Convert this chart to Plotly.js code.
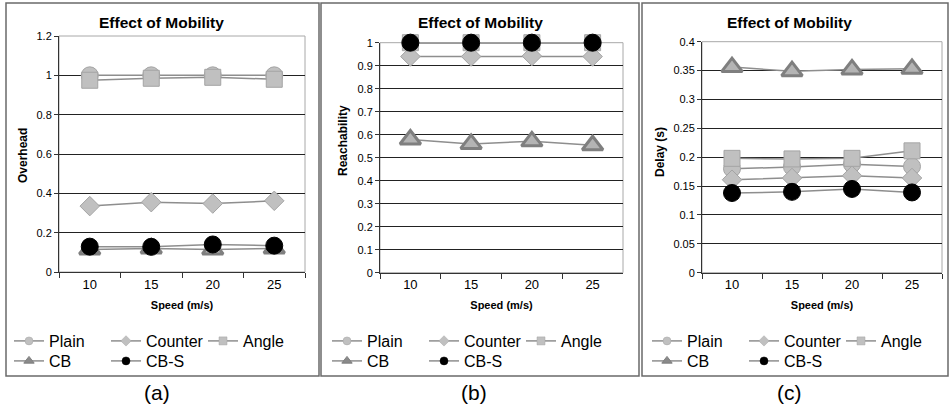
<!DOCTYPE html>
<html>
<head>
<meta charset="utf-8">
<script src="https://cdn.plot.ly/plotly-3.0.1.min.js"></script>
<style>html,body{margin:0;padding:0;background:#fff;}#chart{width:952px;height:407px;}</style>
</head>
<body>
<div id="chart"></div>
<script>
// ---- data ----
const speeds = ['10', '15', '20', '25'];
const seriesNames = ['Plain', 'Counter', 'Angle', 'CB', 'CB-S'];

// (a) Overhead
const overheadPlain   = [1.0, 1.0, 1.0, 1.0];
const overheadCounter = [0.335, 0.355, 0.348, 0.362];
const overheadAngle   = [0.975, 0.985, 0.99, 0.98];
const overheadCB      = [0.115, 0.12, 0.115, 0.12];
const overheadCBS     = [0.129, 0.128, 0.14, 0.134];

// (b) Reachability
const reachPlain   = [1.0, 1.0, 1.0, 1.0];
const reachCounter = [0.94, 0.94, 0.942, 0.94];
const reachAngle   = [1.0, 1.0, 1.0, 1.0];
const reachCB      = [0.579, 0.56, 0.571, 0.554];
const reachCBS     = [1.0, 1.0, 1.0, 1.0];

// (c) Delay (s)
const delayPlain   = [0.18, 0.183, 0.188, 0.184];
const delayCounter = [0.161, 0.164, 0.168, 0.164];
const delayAngle   = [0.198, 0.197, 0.198, 0.211];
const delayCB      = [0.356, 0.349, 0.352, 0.353];
const delayCBS     = [0.138, 0.14, 0.145, 0.139];

const panelTitle = 'Effect of Mobility';
const yTitles = ['Overhead', 'Reachability', 'Delay (s)'];
const xTitle = 'Speed (m/s)';
const panelLabels = ['(a)', '(b)', '(c)'];

// ---- styles ----
const W = 952, H = 407;
const FONT = '"Liberation Sans", Arial, sans-serif';
const lineCol = '#8e8e8e';
const styles = {
  'Plain':   {symbol: 'circle',      size: 17, color: '#c0c0c0', lc: '#a4a4a4', lw: 1, ls: 8, lcol: '#c0c0c0'},
  'Counter': {symbol: 'diamond',     size: 15, color: '#c0c0c0', lc: '#a4a4a4', lw: 1, ls: 8, lcol: '#c0c0c0'},
  'Angle':   {symbol: 'square',      size: 16, color: '#c0c0c0', lc: '#a4a4a4', lw: 1, ls: 8, lcol: '#c0c0c0'},
  'CB':      {symbol: 'triangle-up', size: 18, color: '#b4b4b4', lc: '#7f7f7f', lw: 3, ls: 9, lcol: '#8a8a8a'},
  'CB-S':    {symbol: 'circle',      size: 17, color: '#000000', lc: '#000000', lw: 1, ls: 8, lcol: '#000000'}
};

const panels = [
  {vals: [overheadPlain, overheadCounter, overheadAngle, overheadCB, overheadCBS], range: [0, 1.2], dtick: 0.2,
   px: [59, 305], py: [36, 272], box: [6, 319], ytx: 23, yty: 156, titleX: 161, lgX: 0},
  {vals: [reachPlain, reachCounter, reachAngle, reachCB, reachCBS], range: [0, 1.0], dtick: 0.1,
   px: [380, 623], py: [42.7, 272.7], box: [321, 639], ytx: 343, yty: 141, titleX: 480, lgX: 318},
  {vals: [delayPlain, delayCounter, delayAngle, delayCB, delayCBS], range: [0, 0.4], dtick: 0.05,
   px: [702, 942], py: [41.7, 272.7], box: [642, 948], ytx: 660, yty: 152, titleX: 789, lgX: 638}
];

const traces = [];
const layout = {
  width: W, height: H,
  margin: {l: 0, r: 0, t: 0, b: 0},
  paper_bgcolor: '#ffffff', plot_bgcolor: '#ffffff',
  font: {family: FONT, color: '#000'},
  showlegend: true,
  shapes: [], annotations: []
};

panels.forEach((p, i) => {
  const sfx = i === 0 ? '' : String(i + 1);
  const xa = 'x' + sfx, ya = 'y' + sfx;
  // data traces
  seriesNames.forEach((name, k) => {
    const s = styles[name];
    traces.push({
      type: 'scatter', mode: 'lines+markers', name: name,
      x: speeds, y: p.vals[k], xaxis: xa, yaxis: ya,
      showlegend: false, cliponaxis: false,
      line: {color: lineCol, width: 1.5},
      marker: {symbol: s.symbol, size: s.size, color: s.color, line: {color: s.lc, width: s.lw}}
    });
  });
  // legend entries (two rows per panel)
  const lgRow1 = 'legend' + (i === 0 ? '' : String(2 * i + 1));
  const lgRow2 = 'legend' + String(2 * i + 2);
  seriesNames.forEach((name, k) => {
    const s = styles[name];
    traces.push({
      type: 'scatter', mode: 'lines+markers', name: name,
      x: [null], y: [null], xaxis: xa, yaxis: ya,
      showlegend: true, legend: k < 3 ? lgRow1 : lgRow2, hoverinfo: 'skip',
      line: {color: lineCol, width: 1.5},
      marker: {symbol: s.symbol, size: s.ls, color: s.lcol, line: {color: s.lc, width: name === 'CB' ? 1 : 0.5}}
    });
  });
  const lgCommon = {orientation: 'h', xanchor: 'left', yanchor: 'middle', bgcolor: 'rgba(0,0,0,0)',
    borderwidth: 0, font: {family: FONT, size: 16, color: '#000'}, entrywidth: 52, entrywidthmode: 'pixels',
    traceorder: 'normal', itemclick: false, itemdoubleclick: false};
  layout[lgRow1] = Object.assign({}, lgCommon, {x: (p.lgX + 9) / W, y: 1 - 341 / H});
  layout[lgRow2] = Object.assign({}, lgCommon, {x: (p.lgX + 9) / W, y: 1 - 361 / H});

  layout['xaxis' + sfx] = {
    type: 'category', domain: [p.px[0] / W, p.px[1] / W], anchor: ya,
    range: [-0.5, 3.5], tickson: 'boundaries', ticks: 'outside', ticklen: 5, tickcolor: '#333',
    showgrid: false, showline: true, linecolor: '#333', linewidth: 1, zeroline: false,
    tickfont: {family: FONT, size: 13, color: '#000'},
    title: {text: '<b>' + xTitle + '</b>', font: {family: FONT, size: 11, color: '#000'}, standoff: 10}
  };
  layout['yaxis' + sfx] = {
    domain: [1 - p.py[1] / H, 1 - p.py[0] / H], anchor: xa,
    range: p.range, dtick: p.dtick, tick0: 0, ticks: 'outside', ticklen: 4, tickcolor: '#333',
    showgrid: true, gridcolor: '#222', gridwidth: 1, showline: true, linecolor: '#333', linewidth: 1,
    zeroline: false, tickfont: {family: FONT, size: 11, color: '#000'}
  };
  // plot-area border (light grey, top/right)
  layout.shapes.push({type: 'rect', xref: xa + ' domain', yref: ya + ' domain', x0: 0, x1: 1, y0: 0, y1: 1,
    line: {color: '#a8a8a8', width: 1}, layer: 'below'});
  // panel frame
  layout.shapes.push({type: 'rect', xref: 'paper', yref: 'paper',
    x0: p.box[0] / W, x1: p.box[1] / W, y0: 1 - 376 / H, y1: 1 - 3 / H,
    line: {color: '#6a6a6a', width: 1.5}});
  // panel title
  layout.annotations.push({text: '<b>' + panelTitle + '</b>', xref: 'paper', yref: 'paper',
    x: p.titleX / W, y: 1 - 23 / H, xanchor: 'center', yanchor: 'middle', showarrow: false,
    font: {family: FONT, size: 15.5, color: '#000'}});
  // y-axis title
  layout.annotations.push({text: '<b>' + yTitles[i] + '</b>', xref: 'paper', yref: 'paper',
    x: p.ytx / W, y: 1 - p.yty / H, xanchor: 'center', yanchor: 'middle', textangle: -90, showarrow: false,
    font: {family: FONT, size: 12, color: '#000'}});
  // panel label
  layout.annotations.push({text: panelLabels[i], xref: 'paper', yref: 'paper',
    x: ((p.box[0] + p.box[1]) / 2 - 6) / W, y: 1 - 392 / H, xanchor: 'center', yanchor: 'middle', showarrow: false,
    font: {family: FONT, size: 21, color: '#000'}});
});

Plotly.newPlot('chart', traces, layout, {displayModeBar: false, staticPlot: true});
</script>
</body>
</html>
